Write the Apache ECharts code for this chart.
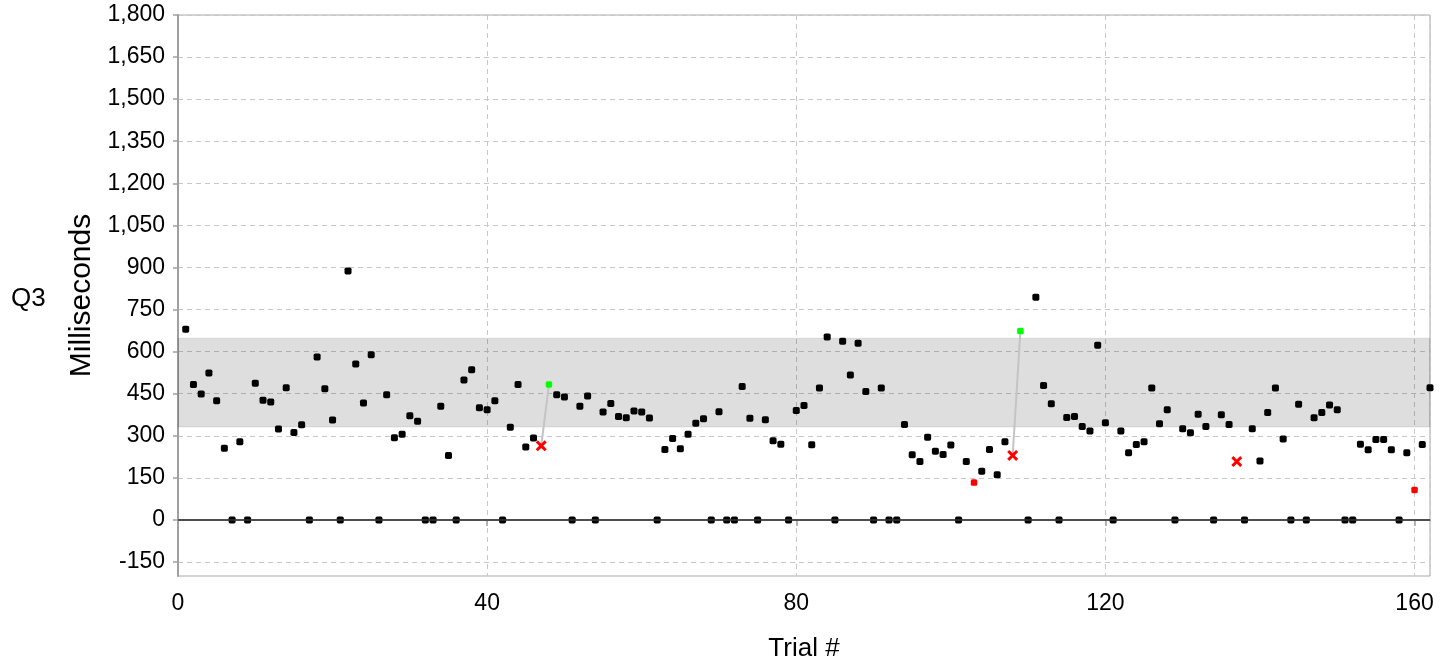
<!DOCTYPE html>
<html><head><meta charset="utf-8">
<script src="https://cdn.jsdelivr.net/npm/echarts@6/dist/echarts.min.js"></script>
<style>html,body{margin:0;padding:0;background:#fff}#c{width:1450px;height:665px}</style>
</head><body><div id="c"></div>
<script>
// Q3 response time per trial (null = trial shown by a special marker)
const trialValues = [
  680,483,449,524,425,255,0,279,0,487,
  427,420,324,471,312,339,0,581,468,356,
  0,887,556,417,589,0,446,293,305,371,
  352,0,0,405,230,0,499,535,400,393,
  425,0,330,483,260,292,null,null,446,438,
  0,405,442,0,385,415,369,364,388,385,
  363,0,251,290,254,305,345,361,0,386,
  0,0,476,362,0,357,282,270,0,390,
  408,268,470,652,0,637,517,630,458,0,
  470,0,0,340,232,208,295,245,233,267,
  0,208,null,173,251,161,279,null,null,0,
  794,479,414,0,365,369,333,317,623,346,
  0,317,239,269,279,470,343,393,0,325,
  311,377,333,0,375,340,null,0,325,210,
  383,470,288,0,412,0,364,383,410,393,
  0,0,270,250,287,287,250,0,239,null,
  269,471
];
const flaggedTrials = [47, 108, 137];
const flaggedValues = [264, 230, 208];
const correctedTrials = [48, 109];
const correctedValues = [483, 673];
const outlierTrials = [103, 160];
const outlierValues = [133, 107];
const bandRange = [331, 648];
const yTickValues = [-150,0,150,300,450,600,750,900,1050,1200,1350,1500,1650,1800];
const xTickInterval = 40;

const tickFont = "'Liberation Sans Narrow','Arial Narrow','Liberation Sans',Arial,sans-serif";
const nameFont = "'Liberation Sans',Arial,sans-serif";

const blackData = trialValues.map((v, i) => [i + 1, v]).filter(d => d[1] !== null);
const flaggedData = flaggedTrials.map((t, i) => [t, flaggedValues[i]]);
const correctedData = correctedTrials.map((t, i) => [t, correctedValues[i]]);
const outlierData = outlierTrials.map((t, i) => [t, outlierValues[i]]);

const linkSeries = correctedTrials.map((t, i) => ({
  type: 'line', z: 2, silent: true, symbol: 'none', animation: false,
  lineStyle: { color: '#c4c4c4', width: 2 },
  data: [flaggedData[i], correctedData[i]]
}));

const xPath = 'path://M0,1.9 L1.9,0 L5,3.1 L8.1,0 L10,1.9 L6.9,5 L10,8.1 L8.1,10 L5,6.9 L1.9,10 L0,8.1 L3.1,5 Z';

const chart = echarts.init(document.getElementById('c'), null, { renderer: 'canvas' });
chart.setOption({
  animation: false,
  backgroundColor: '#fff',
  title: {
    text: 'Q3', left: 6, top: 281,
    textStyle: { fontFamily: nameFont, fontSize: 26, fontWeight: 'normal', color: '#000' }
  },
  grid: {
    left: 178, right: 20, top: 15, bottom: 89,
    outerBoundsMode: 'none', containLabel: false,
    show: true, borderColor: '#a8a8a8', borderWidth: 1, backgroundColor: 'transparent'
  },
  xAxis: {
    type: 'value', min: 0, max: 162, interval: xTickInterval,
    name: 'Trial #', nameLocation: 'middle', nameGap: 60,
    nameTextStyle: { fontFamily: nameFont, fontSize: 26, color: '#000' },
    axisLine: { show: true, lineStyle: { color: '#a0a0a0', width: 2 } },
    axisTick: { show: true, length: 6, lineStyle: { color: '#a0a0a0', width: 1.5 } },
    axisLabel: { fontFamily: tickFont, fontSize: 23, color: '#000', margin: 16 },
    splitLine: { show: true, lineStyle: { color: '#c8c8c8', width: 1, type: [5, 4] } }
  },
  yAxis: {
    type: 'value', min: -200, max: 1800,
    name: 'Milliseconds', nameLocation: 'middle', nameGap: 76, nameRotate: 90,
    nameTextStyle: { fontFamily: nameFont, fontSize: 30, color: '#000' },
    axisLine: { show: true, lineStyle: { color: '#a0a0a0', width: 2 } },
    axisTick: { show: true, length: 5, customValues: yTickValues, lineStyle: { color: '#a0a0a0', width: 1.5 } },
    axisLabel: {
      fontFamily: tickFont, fontSize: 23, color: '#000', margin: 13,
      customValues: yTickValues,
      formatter: v => Number(v).toLocaleString('en-US')
    },
    splitLine: { show: true, lineStyle: { color: '#c8c8c8', width: 1, type: [5, 4] } }
  },
  series: [
    {
      type: 'scatter', z: 1, data: [], silent: true,
      markArea: {
        silent: true,
        itemStyle: { color: 'rgba(0,0,0,0.13)', borderColor: 'rgba(0,0,0,0.06)', borderWidth: 1.5 },
        data: [[{ yAxis: bandRange[0] }, { yAxis: bandRange[1] }]]
      },
      markLine: {
        silent: true, symbol: 'none', label: { show: false },
        lineStyle: { color: '#333', width: 1.5, type: 'solid' },
        data: [{ yAxis: 0 }]
      }
    },
    ...linkSeries,
    {
      type: 'scatter', z: 3, symbol: 'roundRect', symbolSize: 7,
      itemStyle: { color: '#000', opacity: 1 }, data: blackData
    },
    {
      type: 'scatter', z: 4, symbol: 'roundRect', symbolSize: 6.5,
      itemStyle: { color: '#00ff00', opacity: 1 }, data: correctedData
    },
    {
      type: 'scatter', z: 4, symbol: 'roundRect', symbolSize: 6.5,
      itemStyle: { color: '#ff0000', opacity: 1 }, data: outlierData
    },
    {
      type: 'scatter', z: 4, symbol: xPath, symbolSize: 11,
      itemStyle: { color: '#ff0000', opacity: 1 }, data: flaggedData
    }
  ]
});
</script>
</body></html>
